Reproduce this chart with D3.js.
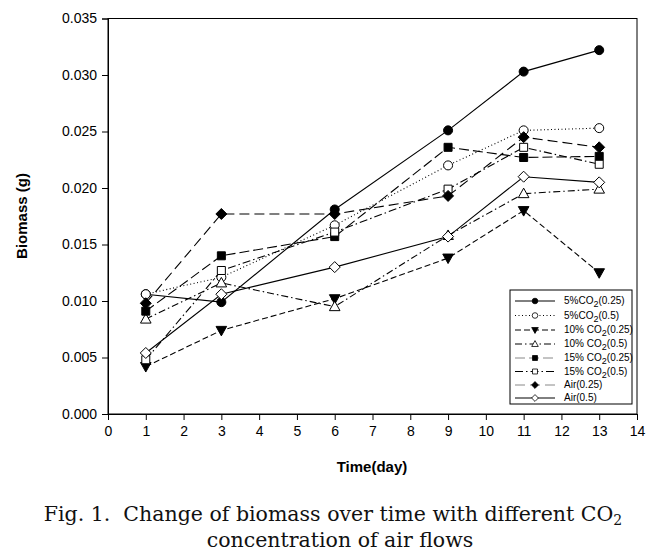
<!DOCTYPE html>
<html><head><meta charset="utf-8">
<script src="https://cdn.jsdelivr.net/npm/d3@7"></script>
<style>body{margin:0;background:#fff}svg{display:block}</style>
</head><body>
<svg id="c" width="665" height="556"></svg>
<script>
const days = [1, 3, 6, 9, 11, 13];
const co2_5_025  = [0.0106, 0.0099, 0.0181, 0.0251, 0.0303, 0.0322];
const co2_5_05   = [0.0106, 0.0121, 0.0167, 0.0220, 0.0251, 0.0253];
const co2_10_025 = [0.0042, 0.0074, 0.0102, 0.0138, 0.0180, 0.0125];
const co2_10_05  = [0.0084, 0.0116, 0.0095, 0.0158, 0.0195, 0.0199];
const co2_15_025 = [0.0091, 0.0140, 0.0157, 0.0236, 0.0227, 0.0228];
const co2_15_05  = [0.0048, 0.0127, 0.0161, 0.0199, 0.0236, 0.0221];
const air_025    = [0.0098, 0.0177, 0.0177, 0.0193, 0.0245, 0.0236];
const air_05     = [0.0054, 0.0106, 0.0130, 0.0157, 0.0210, 0.0205];
const seriesNames = [["5%CO","2","(0.25)"],["5%CO","2","(0.5)"],["10% CO","2","(0.25)"],["10% CO","2","(0.5)"],
                     ["15% CO","2","(0.25)"],["15% CO","2","(0.5)"],["Air(0.25)","",""],["Air(0.5)","",""]];
const xTicks = d3.range(0, 15, 1);
const yTicks = [0, 0.005, 0.010, 0.015, 0.020, 0.025, 0.030, 0.035];

const styles = [
  {dash:null, shape:"circle", fill:"#000"},
  {dash:"1,2.5", shape:"circle", fill:"#fff"},
  {dash:"6,3", shape:"tdown", fill:"#000"},
  {dash:"7,3,1.5,3", shape:"tup", fill:"#fff"},
  {dash:"10,4", shape:"square", fill:"#000"},
  {dash:"8,3,1.5,3", shape:"square", fill:"#fff"},
  {dash:"10,5", shape:"diamond", fill:"#000"},
  {dash:null, shape:"diamond", fill:"#fff"}
];
const allSeries = [co2_5_025, co2_5_05, co2_10_025, co2_10_05, co2_15_025, co2_15_05, air_025, air_05];

const svg = d3.select("#c");
svg.append("rect").attr("width",665).attr("height",556).attr("fill","#fff");
const L = 108, R = 637, T = 18.5, B = 414;
const x = d3.scaleLinear().domain([0,14]).range([L,R]);
const y = d3.scaleLinear().domain([0,0.035]).range([B,T]);

function shapePath(s, k){
  k = k || 1;
  switch(s){
    case "circle": return d3.symbol(d3.symbolCircle, 64*k*k)();
    case "square": { const h=4*k; return `M${-h},${-h}H${h}V${h}H${-h}Z`; }
    case "diamond": { const r=5.5*k; return `M0,${-r}L${r},0L0,${r}L${-r},0Z`; }
    case "tup": { const w=5.3*k; return `M0,${-5.5*k}L${w},${4*k}L${-w},${4*k}Z`; }
    case "tdown": { const w=5.3*k; return `M0,${5.5*k}L${w},${-4*k}L${-w},${-4*k}Z`; }
  }
}

// frame
svg.append("rect").attr("x",L).attr("y",T).attr("width",R-L).attr("height",B-T)
  .attr("fill","none").attr("stroke","#000").attr("stroke-width",1);

const font = "'Liberation Sans', Arial, sans-serif";
const xa = svg.append("g").attr("transform",`translate(0,${B})`)
  .call(d3.axisBottom(x).tickValues(xTicks).tickFormat(d3.format("d")).tickSize(6).tickPadding(6));
const ya = svg.append("g").attr("transform",`translate(${L},0)`)
  .call(d3.axisLeft(y).tickValues(yTicks).tickFormat(d3.format(".3f")).tickSize(6).tickPadding(5));
[xa, ya].forEach(a => {
  a.select(".domain").attr("stroke","#000");
  a.selectAll("line").attr("stroke","#000");
  a.selectAll("text").attr("font-family",font).attr("font-size",14).attr("fill","#000");
});

const line = d3.line().x((d,i)=>x(days[i])).y(d=>y(d));
allSeries.forEach((vals, si) => {
  const st = styles[si];
  svg.append("path").attr("d", line(vals)).attr("fill","none").attr("stroke","#000")
    .attr("stroke-width",1.1).attr("stroke-dasharray", st.dash);
  svg.append("g").selectAll("path").data(vals).join("path")
    .attr("transform",(d,i)=>`translate(${x(days[i])},${y(d)})`)
    .attr("d", shapePath(st.shape)).attr("fill", st.fill).attr("stroke","#000").attr("stroke-width",1);
});

// axis titles
svg.append("text").attr("x",372).attr("y",472).attr("text-anchor","middle")
  .attr("font-family",font).attr("font-weight","bold").attr("font-size",15).text("Time(day)");
svg.append("text").attr("transform","translate(27,216) rotate(-90)").attr("text-anchor","middle")
  .attr("font-family",font).attr("font-weight","bold").attr("font-size",15).text("Biomass (g)");

// legend
const lg = svg.append("g");
lg.append("rect").attr("x",510).attr("y",290).attr("width",122).attr("height",114)
  .attr("fill","#fff").attr("stroke","#000").attr("stroke-width",1);
const rowY = [301, 315.5, 330, 344, 358, 371.5, 385, 398];
seriesNames.forEach((nm, i) => {
  const st = styles[i];
  const yy = rowY[i];
  lg.append("line").attr("x1",515).attr("x2",555).attr("y1",yy).attr("y2",yy)
    .attr("stroke", (i===4||i===6)?"#888":"#000").attr("stroke-width",1).attr("stroke-dasharray", st.dash);
  lg.append("path").attr("transform",`translate(535,${yy})`).attr("d", shapePath(st.shape, 0.62))
    .attr("fill", st.fill).attr("stroke","#000").attr("stroke-width",0.8);
  const t = lg.append("text").attr("x",564).attr("y",yy+3).attr("font-family",font).attr("font-size",10).attr("fill","#000");
  t.append("tspan").text(nm[0]);
  if (nm[1]) {
    t.append("tspan").attr("dy",3).attr("font-size",9).text(nm[1]);
    t.append("tspan").attr("dy",-3).text(nm[2]);
  }
});

// caption
const serif = "'DejaVu Serif', 'Liberation Serif', serif";
const cap = svg.append("text").attr("x",333).attr("y",521).attr("text-anchor","middle")
  .attr("font-family",serif).attr("font-size",20.5).attr("fill","#111");
cap.append("tspan").text("Fig. 1.\u00a0\u00a0Change of biomass over time with different CO");
cap.append("tspan").attr("dy",4).attr("font-size",14).text("2");
svg.append("text").attr("x",340).attr("y",547).attr("text-anchor","middle")
  .attr("font-family",serif).attr("font-size",20.5).attr("fill","#111").text("concentration of air flows");
</script>
</body></html>
